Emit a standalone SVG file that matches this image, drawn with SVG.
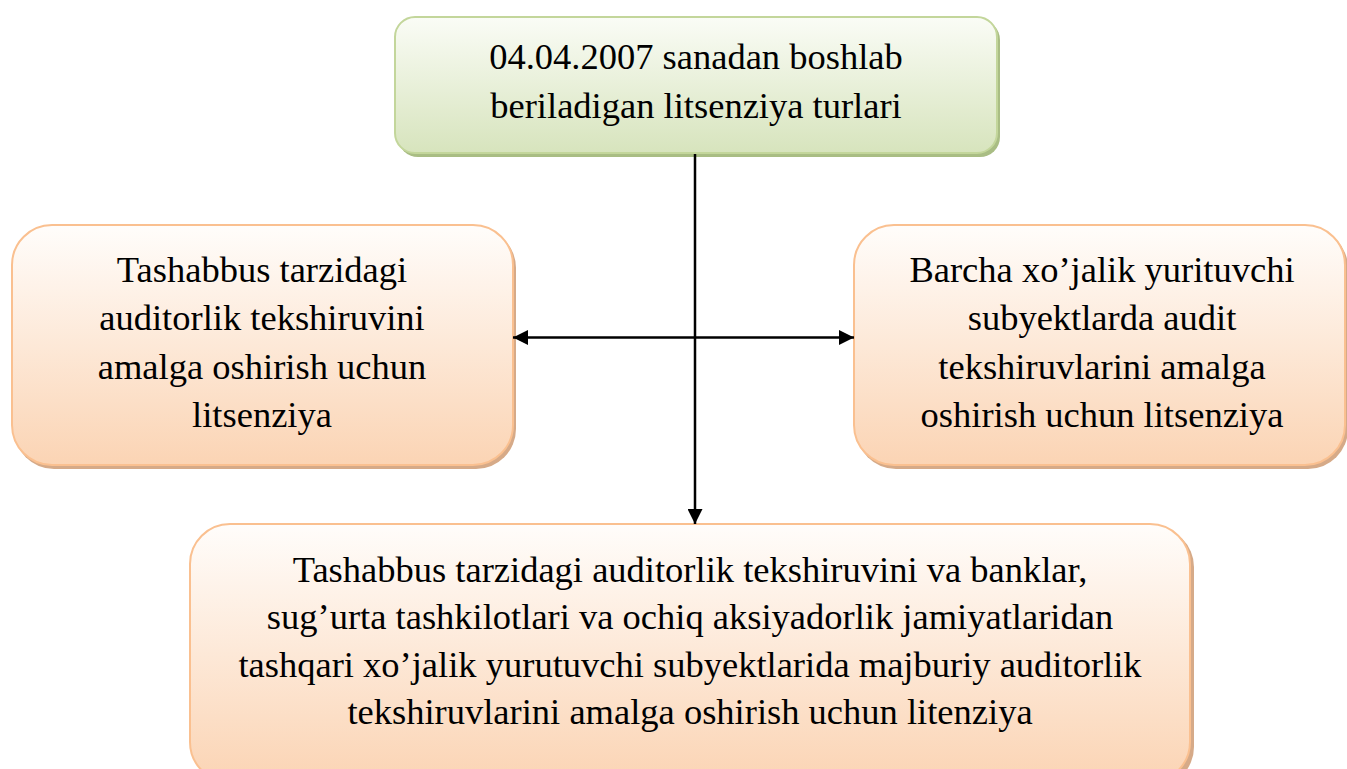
<svg xmlns="http://www.w3.org/2000/svg" width="1347" height="769" viewBox="0 0 1347 769">
<style>
.t{font-family:"Liberation Serif","Times New Roman",serif;font-size:36.5px;fill:#000;text-anchor:middle}
.og{fill:url(#gO);stroke:#fac090;stroke-width:2}
.os{fill:#d6aa88}
.gg{fill:url(#gG);stroke:#c3d69b;stroke-width:2}
.gs{fill:#a9bd84}
.c{stroke:#000;stroke-width:2.5;fill:none}
</style>
<defs>
<linearGradient id="gO" x1="0" y1="0" x2="0" y2="1">
<stop offset="0" stop-color="#fffdfb"/>
<stop offset="1" stop-color="#fbd4b4"/>
</linearGradient>
<linearGradient id="gG" x1="0" y1="0" x2="0" y2="1">
<stop offset="0" stop-color="#fafcf6"/>
<stop offset="1" stop-color="#d7e4bd"/>
</linearGradient>
<marker id="ah" viewBox="0 0 10 10" refX="10" refY="5" markerWidth="6" markerHeight="6" orient="auto-start-reverse" markerUnits="strokeWidth">
<path d="M0,0 L10,5 L0,10 z" fill="#000"/>
</marker>
</defs>
<rect width="1347" height="769" fill="#fff"/>
<g id="top">
<rect class="gs" x="398" y="20" width="602" height="137" rx="20"/>
<rect class="gg" x="395" y="17" width="602" height="136" rx="20"/>
<text class="t" x="696" y="69">04.04.2007 sanadan boshlab</text>
<text class="t" x="696" y="118">beriladigan litsenziya turlari</text>
</g>
<g id="left">
<rect class="os" x="14" y="228" width="502" height="241" rx="40"/>
<rect class="og" x="12" y="225" width="501" height="240" rx="40"/>
<text class="t" x="262" y="282">Tashabbus tarzidagi</text>
<text class="t" x="262" y="330">auditorlik tekshiruvini</text>
<text class="t" x="262" y="379">amalga oshirish uchun</text>
<text class="t" x="262" y="427">litsenziya</text>
</g>
<g id="right">
<rect class="os" x="856" y="228" width="492" height="241" rx="40"/>
<rect class="og" x="854" y="225" width="491" height="240" rx="40"/>
<text class="t" x="1102" y="282">Barcha xo’jalik yurituvchi</text>
<text class="t" x="1102" y="330">subyektlarda audit</text>
<text class="t" x="1102" y="379">tekshiruvlarini amalga</text>
<text class="t" x="1102" y="427">oshirish uchun litsenziya</text>
</g>
<g id="bottom">
<rect class="os" x="193" y="527" width="1001" height="260" rx="40"/>
<rect class="og" x="190" y="524" width="1000" height="258" rx="40"/>
<text class="t" x="690" y="582">Tashabbus tarzidagi auditorlik tekshiruvini va banklar,</text>
<text class="t" x="690" y="629">sug’urta tashkilotlari va ochiq aksiyadorlik jamiyatlaridan</text>
<text class="t" x="690" y="677">tashqari xo’jalik yurutuvchi subyektlarida majburiy auditorlik</text>
<text class="t" x="690" y="724">tekshiruvlarini amalga oshirish uchun litenziya</text>
</g>
<g id="connectors">
<line class="c" x1="695" y1="154" x2="695" y2="524" marker-end="url(#ah)"/>
<line class="c" x1="513" y1="337.5" x2="854" y2="337.5" marker-start="url(#ah)" marker-end="url(#ah)"/>
</g>
</svg>
